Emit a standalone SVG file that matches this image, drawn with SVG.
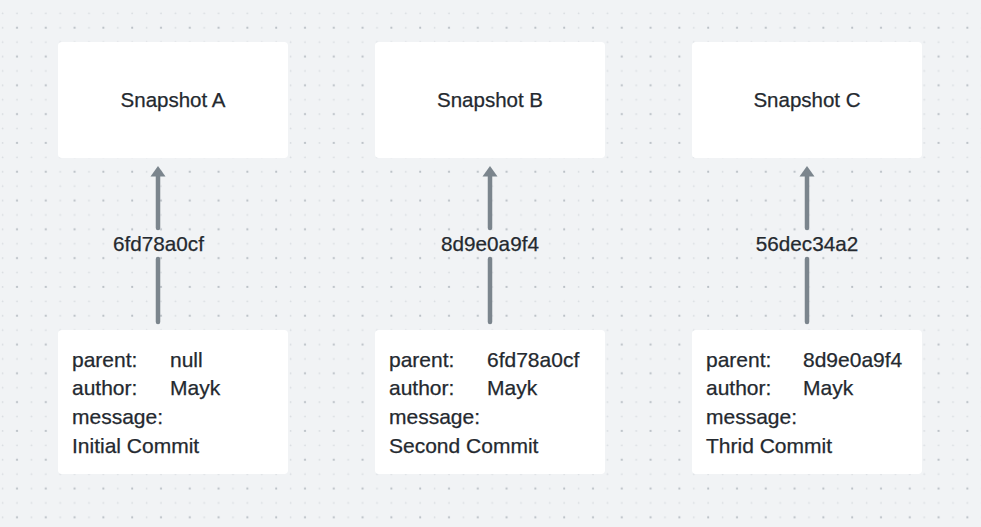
<svg xmlns="http://www.w3.org/2000/svg" width="981" height="527" viewBox="0 0 981 527">
<defs>
<pattern id="dots" patternUnits="userSpaceOnUse" x="0" y="0" width="28.8" height="28.8">
<circle cx="2.6" cy="13.3" r="0.9" fill="#d9dde1"/>
<circle cx="17" cy="13.3" r="0.9" fill="#d9dde1"/>
<circle cx="2.6" cy="27.7" r="0.9" fill="#d9dde1"/>
<circle cx="17" cy="27.7" r="1.1" fill="#b9bfc5"/>
</pattern>
<path id="head" d="M-7.5,10.5 L0,0 L7.5,10.5 Z" fill="#7b858d"/>
<style>
.box{fill:#ffffff;}
.title{font-family:"Liberation Sans",Arial,sans-serif;font-size:20.5px;fill:#24292f;text-anchor:middle;stroke:#24292f;stroke-width:0.25;}
.hash{font-family:"Liberation Sans",Arial,sans-serif;font-size:20.7px;fill:#24292f;text-anchor:middle;stroke:#24292f;stroke-width:0.25;}
.body{font-family:"Liberation Sans",Arial,sans-serif;font-size:21px;fill:#24292f;stroke:#24292f;stroke-width:0.25;}
.line{stroke:#7b858d;stroke-width:4.5;fill:none;stroke-linecap:round;}
</style>
</defs>
<rect width="981" height="527" fill="#f1f3f5"/>
<rect width="981" height="527" fill="url(#dots)"/>

<g id="snapshotA"><rect class="box" x="58" y="42" width="230" height="116" rx="4"/><text class="title" x="173" y="107">Snapshot A</text></g>
<g id="snapshotB"><rect class="box" x="375" y="42" width="230" height="116" rx="4"/><text class="title" x="490" y="107">Snapshot B</text></g>
<g id="snapshotC"><rect class="box" x="692" y="42" width="230" height="116" rx="4"/><text class="title" x="807" y="107">Snapshot C</text></g>

<g id="commitA"><rect class="box" x="58" y="330" width="230" height="144" rx="4"/>
<text class="body" x="72" y="367">parent:</text><text class="body" x="170" y="367">null</text>
<text class="body" x="72" y="395">author:</text><text class="body" x="170" y="395">Mayk</text>
<text class="body" x="72" y="424">message:</text>
<text class="body" x="72" y="453">Initial Commit</text></g>

<g id="commitB"><rect class="box" x="375" y="330" width="230" height="144" rx="4"/>
<text class="body" x="389" y="367">parent:</text><text class="body" x="487" y="367">6fd78a0cf</text>
<text class="body" x="389" y="395">author:</text><text class="body" x="487" y="395">Mayk</text>
<text class="body" x="389" y="424">message:</text>
<text class="body" x="389" y="453">Second Commit</text></g>

<g id="commitC"><rect class="box" x="692" y="330" width="230" height="144" rx="4"/>
<text class="body" x="706" y="367">parent:</text><text class="body" x="803" y="367">8d9e0a9f4</text>
<text class="body" x="706" y="395">author:</text><text class="body" x="803" y="395">Mayk</text>
<text class="body" x="706" y="424">message:</text>
<text class="body" x="706" y="453">Thrid Commit</text></g>

<g id="connectors">
<line class="line" x1="158" y1="322" x2="158" y2="259"/>
<line class="line" x1="158" y1="228" x2="158" y2="175"/>
<use href="#head" x="158" y="166"/>
<text class="hash" x="158.5" y="251">6fd78a0cf</text>
<line class="line" x1="490" y1="322" x2="490" y2="259"/>
<line class="line" x1="490" y1="228" x2="490" y2="175"/>
<use href="#head" x="490" y="166"/>
<text class="hash" x="490" y="251">8d9e0a9f4</text>
<line class="line" x1="807" y1="322" x2="807" y2="259"/>
<line class="line" x1="807" y1="228" x2="807" y2="175"/>
<use href="#head" x="807" y="166"/>
<text class="hash" x="807" y="251">56dec34a2</text>
</g>
</svg>
